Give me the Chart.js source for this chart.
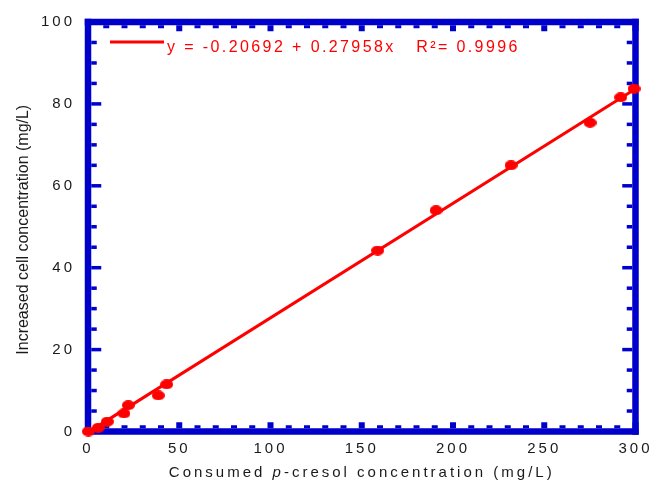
<!DOCTYPE html>
<html>
<head>
<meta charset="utf-8">
<script src="https://cdn.jsdelivr.net/npm/chart.js@4/dist/chart.umd.min.js"></script>
<style>
  html, body { margin: 0; padding: 0; background: #ffffff; }
  #wrap { width: 662px; height: 485px; }
</style>
</head>
<body>
<div id="wrap"><canvas id="chart" width="662" height="485"></canvas></div>
<script>
// Consumed p-cresol (mg/L) vs. increased cell concentration (mg/L)
const consumedCresol = [0.2, 5.6, 10.6, 19.7, 22.1, 38.5, 43.1, 158.7, 190.7, 231.8, 275.1, 291.9, 299.2];
const increasedCells = [0.0, 0.9, 2.4, 4.4, 6.4, 8.8, 11.5, 44.2, 54.0, 65.0, 75.4, 81.6, 83.7];

// Linear fit reported for the data
const fitIntercept = -0.20692;
const fitSlope = 0.27958;
const fitR2 = '0.9996';

// Axis ranges and labelled ticks
const xTickValues = [0, 50, 100, 150, 200, 250, 300];
const yTickValues = [0, 20, 40, 60, 80, 100];
const xMinorStep = 10;
const yMinorStep = 5;

const FONT = "'Liberation Sans', Arial, Helvetica, sans-serif";
const TEXT_COLOR = '#1a1a1a';
const FRAME_COLOR = '#0000cc';
const RED = '#ff0000';

const scatterPoints = consumedCresol.map((x, i) => ({ x: x, y: increasedCells[i] }));
const xMin = Math.min(...consumedCresol);
const xMax = Math.max(...consumedCresol);
const fitLine = [xMin, xMax].map(x => ({ x: x, y: fitIntercept + fitSlope * x }));

// Filled ellipse used as marker
function ellipseMarker(w, h, color) {
  const c = document.createElement('canvas');
  c.width = w; c.height = h;
  const g = c.getContext('2d');
  g.fillStyle = color;
  g.beginPath();
  g.ellipse(w / 2, h / 2, w / 2, h / 2, 0, 0, Math.PI * 2);
  g.fill();
  return c;
}
const marker = ellipseMarker(13, 10, RED);

// Thick blue box with inward tick marks on all four sides
const framePlugin = {
  id: 'frame',
  beforeDraw(chart) {
    chart.ctx.letterSpacing = '3px';
  },
  beforeDatasetsDraw(chart) {
    const ctx = chart.ctx;
    const { left, right, top, bottom } = chart.chartArea;
    const xs = chart.scales.x, ys = chart.scales.y;
    const bw = 6.5;
    ctx.save();
    ctx.fillStyle = FRAME_COLOR;
    ctx.fillRect(left - bw / 2, top - bw / 2, right - left + bw, bw);
    ctx.fillRect(left - bw / 2, bottom - bw / 2, right - left + bw, bw);
    ctx.fillRect(left - bw / 2, top - bw / 2, bw, bottom - top + bw);
    ctx.fillRect(right - bw / 2, top - bw / 2, bw, bottom - top + bw);

    for (let v = xs.min; v <= xs.max; v += xMinorStep) {
      const px = xs.getPixelForValue(v);
      const major = xTickValues.includes(v);
      const len = major ? 6 : 3;
      const tw = 6;
      ctx.fillRect(px - tw / 2, top + bw / 2, tw, len);
      ctx.fillRect(px - tw / 2, bottom - bw / 2 - len, tw, len);
    }
    for (let v = ys.min; v <= ys.max; v += yMinorStep) {
      const py = ys.getPixelForValue(v);
      const major = yTickValues.includes(v);
      const len = major ? 10 : 5.5;
      const th = 3.5;
      ctx.fillRect(left + bw / 2, py - th / 2, len, th);
      ctx.fillRect(right - bw / 2 - len, py - th / 2, len, th);
    }
    ctx.restore();
  },
  afterDraw(chart) {
    const ctx = chart.ctx;
    const { left, right, top, bottom } = chart.chartArea;
    ctx.save();

    // x-axis title with italic "p"
    ctx.letterSpacing = '3px';
    ctx.fillStyle = TEXT_COLOR;
    ctx.textBaseline = 'alphabetic';
    ctx.textAlign = 'left';
    const parts = [
      { t: 'Consumed ', f: `15px ${FONT}` },
      { t: 'p', f: `italic 15px ${FONT}` },
      { t: '-cresol concentration (mg/L)', f: `15px ${FONT}` }
    ];
    let total = 0;
    parts.forEach(p => { ctx.font = p.f; p.w = ctx.measureText(p.t).width; total += p.w; });
    let cx = (left + right) / 2 - total / 2;
    parts.forEach(p => { ctx.font = p.f; ctx.fillText(p.t, cx, 477); cx += p.w; });

    // y-axis title
    ctx.letterSpacing = '0px';
    ctx.font = `16px ${FONT}`;
    ctx.textAlign = 'center';
    ctx.textBaseline = 'middle';
    ctx.translate(24, (top + bottom) / 2 + 3);
    ctx.rotate(-Math.PI / 2);
    ctx.fillText('Increased cell concentration (mg/L)', 0, 0);
    ctx.restore();

    // legend: line sample and fit equation
    ctx.save();
    ctx.strokeStyle = RED;
    ctx.lineWidth = 3;
    ctx.beginPath();
    ctx.moveTo(110, 42);
    ctx.lineTo(164, 42);
    ctx.stroke();
    ctx.fillStyle = RED;
    ctx.letterSpacing = '2.4px';
    ctx.font = `16px ${FONT}`;
    ctx.textAlign = 'left';
    ctx.textBaseline = 'alphabetic';
    const eq = `y = ${fitIntercept} + ${fitSlope}x   R\u00B2= ${fitR2}`;
    ctx.fillText(eq, 167, 52);
    ctx.restore();
  }
};

new Chart(document.getElementById('chart'), {
  type: 'scatter',
  data: {
    datasets: [
      {
        type: 'line',
        data: fitLine,
        borderColor: RED,
        borderWidth: 3,
        pointRadius: 0,
        fill: false,
        tension: 0,
        clip: false,
        order: 2
      },
      {
        data: scatterPoints,
        pointStyle: marker,
        pointRadius: 6,
        backgroundColor: RED,
        borderWidth: 0,
        clip: false,
        order: 1
      }
    ]
  },
  options: {
    responsive: false,
    animation: false,
    devicePixelRatio: 1,
    layout: { padding: { left: 0, top: 18.5, right: 26.5, bottom: 0 } },
    plugins: { legend: { display: false }, tooltip: { enabled: false } },
    scales: {
      x: {
        type: 'linear',
        min: 0,
        max: 300,
        afterBuildTicks: s => { s.ticks = xTickValues.map(v => ({ value: v })); },
        afterFit: s => { s.height = 53.5; },
        grid: { display: false, drawTicks: false },
        border: { display: false },
        ticks: { font: { family: FONT, size: 15 }, color: TEXT_COLOR, padding: 8, maxRotation: 0, autoSkip: false }
      },
      y: {
        type: 'linear',
        min: 0,
        max: 100,
        afterBuildTicks: s => { s.ticks = yTickValues.map(v => ({ value: v })); },
        afterFit: s => { s.width = 88; },
        grid: { display: false, drawTicks: false },
        border: { display: false },
        ticks: { font: { family: FONT, size: 15 }, color: TEXT_COLOR, padding: 13, autoSkip: false }
      }
    }
  },
  plugins: [framePlugin]
});
</script>
</body>
</html>
